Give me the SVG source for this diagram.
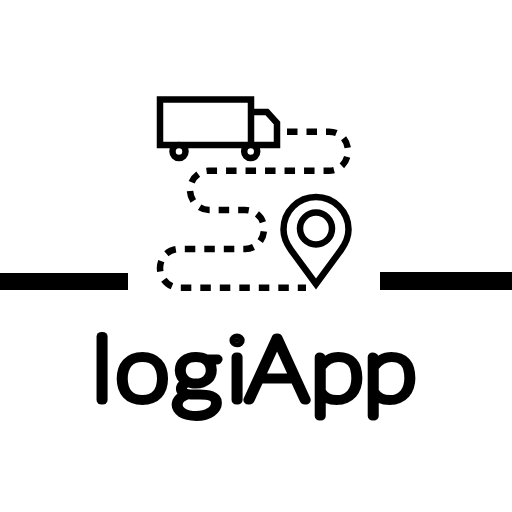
<svg xmlns="http://www.w3.org/2000/svg" width="512" height="512" viewBox="0 0 512 512">
<style>
.s{fill:none;stroke:#000;stroke-width:6.500}
.w{fill:#fff;stroke:#000;stroke-width:6.500}
.t{font-family:"Lato","Inter",sans-serif;font-size:88px;font-weight:100;fill:#000;stroke:#000;stroke-width:9;stroke-linejoin:round;stroke-linecap:round;text-anchor:middle}
</style>
<rect width="512" height="512" fill="#fff"/>
<g id="bars"><rect x="0" y="273" width="128" height="17"/><rect x="380" y="272" width="132" height="18"/></g>
<g id="route"><path class="s" stroke-dasharray="10.500 9" d="M287 131.700H329C341 131.700 348 141 348 151C348 161 341 170.700 329 170.700H209C198 170.700 190 180 190 190C190 200 198 210 209 210H245C256 210 264 218 264 229C264 240 256 249 245 249H179C168 249 160 258 160 268C160 278 168 287.700 179 287.700H306"/></g>
<g id="truck"><path class="s" stroke-linejoin="miter" d="M251 112H267L277 123V145H251"/><rect class="s" x="160" y="99.500" width="91" height="45.500"/><circle class="w" cx="179" cy="151.500" r="6.500"/><circle class="w" cx="250.700" cy="151.500" r="6.500"/></g>
<g id="pin"><path class="s" stroke-linejoin="miter" d="M316 284L291 250C286 243 283.500 237 283.500 229.500C283.500 211.500 298 197 316 197C334 197 348.500 211.500 348.500 229.500C348.500 237 346 243 341 250Z"/><circle class="s" cx="316" cy="228.500" r="16"/></g>
<g id="title"><text class="t" transform="scale(1.1 1)" x="92.700 129.500 178.600 215.500 251.800 306.400 354.600" y="400">logiApp</text></g>
</svg>
